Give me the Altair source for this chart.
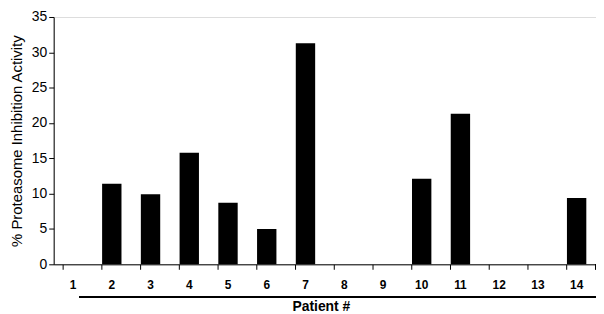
import altair as alt
import pandas as pd

patients = [str(i) for i in range(1, 15)]
values = [0, 11.4, 9.9, 15.8, 8.7, 5.0, 31.3, 0, 0, 12.1, 21.3, 0, 0, 9.4]

df = pd.DataFrame({"Patient": patients, "Activity": values})

FONT = "Liberation Sans"

bars = alt.Chart(df).mark_bar(color="black").encode(
    x=alt.X("Patient:N", sort=patients,
            scale=alt.Scale(paddingInner=0.5, paddingOuter=0.25),
            axis=alt.Axis(title="Patient #", labelAngle=0, bandPosition=0,
                          labelFont=FONT, labelFontSize=12,
                          labelFontWeight="bold", labelColor="black",
                          labelPadding=10, tickColor="black", tickSize=5,
                          domainColor="black", titleFont=FONT, titleFontSize=14,
                          titleFontWeight="bold", titleColor="black",
                          titlePadding=10, titleX=269)),
    y=alt.Y("Activity:Q", scale=alt.Scale(domain=[0, 35], nice=False),
            axis=alt.Axis(title="% Proteasome Inhibition Activity", values=[0, 5, 10, 15, 20, 25, 30, 35],
                          grid=False, labelFont=FONT, labelFontSize=14,
                          labelColor="black", labelPadding=2, tickColor="black", tickSize=5,
                          domainColor="black", titleFont=FONT, titleFontSize=15,
                          titleFontWeight="normal", titleColor="black",
                          titlePadding=7)),
)

end_tick = alt.Chart(df).mark_rule(color="black").encode(
    x=alt.value(546), y=alt.value(249), y2=alt.value(254)
)

underline = alt.Chart(df).mark_rule(color="black", strokeWidth=2).encode(
    x=alt.value(26), x2=alt.value(552), y=alt.value(282)
)

chart = alt.layer(bars, end_tick, underline).properties(
    width=546, height=249,
    autosize=alt.AutoSizeParams(type="none"),
    padding={"left": 46, "top": 8, "right": 0, "bottom": 52},
).configure_view(stroke=None).configure(background="white")

chart.save("out.html", embed_options={"renderer": "svg", "actions": False})
